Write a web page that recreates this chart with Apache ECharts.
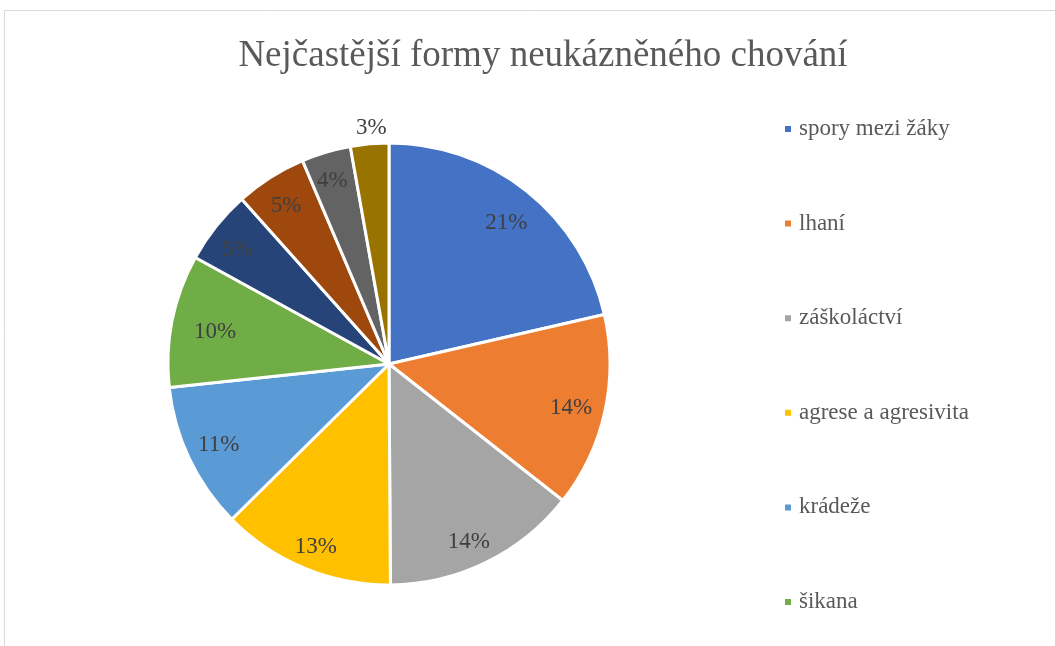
<!DOCTYPE html>
<html>
<head>
<meta charset="utf-8">
<script src="https://cdn.jsdelivr.net/npm/echarts@6/dist/echarts.min.js"></script>
<style>
  html, body { margin: 0; padding: 0; background: #fff; }
  #container { width: 1055px; height: 646px; }
</style>
</head>
<body>
<div id="container"></div>
<script>
var myChart = echarts.init(document.getElementById('container'));

// kategorie (poslední čtyři se v legendě nezobrazují)
var categories = ['spory mezi žáky', 'lhaní', 'záškoláctví', 'agrese a agresivita', 'krádeže', 'šikana',
  'vulgarismy', 'ničení majetku', 'podvádění', 'jiné'];
// podíly v procentech
var values = [21.4, 14.2, 14.3, 12.7, 10.7, 9.7, 5.4, 5.2, 3.6, 2.8];
var legendNames = categories.slice(0, 6);

var colors = ['#4472C4', '#ED7D31', '#A5A5A5', '#FFC000', '#5B9BD5', '#70AD47',
  '#264478', '#9E480E', '#636363', '#997300'];

// drobné posuny popisků podle předlohy
var labelOffsets = [[0, 6], [-2, 3], [-3, 9], [-1, 9], [0, 0], [11, 5], [-4, 3], [-2, 1], [-3, -2], [-1, -48]];

var serif = '"Liberation Serif", "DejaVu Serif", serif';

var pieData = categories.map(function(name, i) {
  return { name: name, value: values[i] };
});

// průhledný prstenec jen pro popisky (umístěné blíž k okraji)
var labelData = categories.map(function(name, i) {
  return { name: name, value: values[i], label: { offset: labelOffsets[i] } };
});

var option = {
  color: colors,
  title: {
    text: 'Nejčastější formy neukázněného chování',
    left: 538,
    textAlign: 'center',
    top: 33,
    textStyle: {
      color: '#595959',
      fontFamily: serif,
      fontWeight: 'normal',
      fontSize: 37
    }
  },
  legend: {
    orient: 'vertical',
    left: 778,
    top: 112,
    itemWidth: 8,
    itemHeight: 8,
    itemGap: 70.6,
    icon: 'rect',
    data: legendNames,
    textStyle: {
      color: '#595959',
      fontFamily: serif,
      fontSize: 23,
      lineHeight: 24,
      padding: [0, 0, 0, 2]
    }
  },
  graphic: [{
    type: 'rect',
    shape: { x: 4.5, y: 10.5, width: 1100, height: 700 },
    style: { fill: 'none', stroke: '#d9d9d9', lineWidth: 1 },
    silent: true
  }],
  series: [
    {
      type: 'pie',
      center: [389, 364],
      radius: [0, 221],
      startAngle: 90,
      clockwise: true,
      data: pieData,
      label: { show: false },
      labelLine: { show: false },
      itemStyle: { borderColor: '#fff', borderWidth: 3 },
      emphasis: { scale: false }
    },
    {
      type: 'pie',
      center: [389, 364],
      radius: [150, 221],
      startAngle: 90,
      clockwise: true,
      silent: true,
      data: labelData,
      itemStyle: { color: 'rgba(0,0,0,0)' },
      label: {
        show: true,
        position: 'inside',
        formatter: function(p) { return Math.round(p.value) + '%'; },
        color: '#404040',
        fontFamily: serif,
        fontSize: 23
      },
      labelLine: { show: false },
      tooltip: { show: false }
    }
  ]
};

myChart.setOption(option);
</script>
</body>
</html>
